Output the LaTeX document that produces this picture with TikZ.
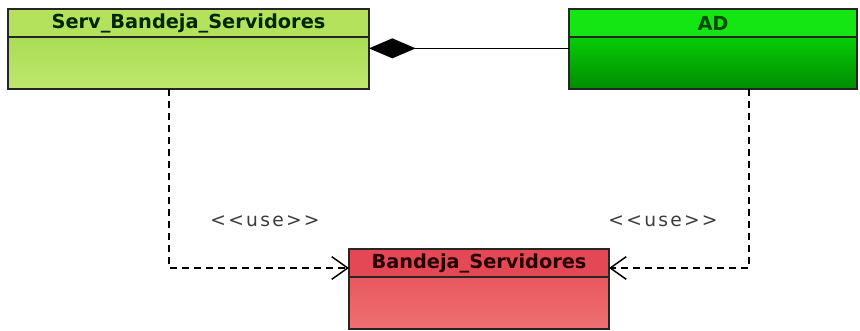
\documentclass[tikz,border=0pt]{standalone}
\usepackage{fontspec}
\usepackage{tikz}
\usepackage{xcolor}
\usetikzlibrary{arrows.meta}
\setmainfont{DejaVu Sans}
\newfontfamily\titlefont{DejaVu Sans}
\newfontfamily\stereofont{DejaVu Sans}[LetterSpace=12]

\definecolor{servtop}{RGB}{180,226,92}
\definecolor{servlo}{RGB}{170,220,84}
\definecolor{servhi}{RGB}{190,232,110}
\definecolor{adtop}{RGB}{20,230,20}
\definecolor{adhi}{RGB}{8,205,8}
\definecolor{adlo}{RGB}{0,140,0}
\definecolor{bandtop}{RGB}{228,72,84}
\definecolor{bandhi}{RGB}{232,88,94}
\definecolor{bandlo}{RGB}{238,112,112}
\definecolor{usegray}{RGB}{60,60,60}

\begin{document}
\begin{tikzpicture}[x=0.75pt,y=-0.75pt,
    header/.style={draw=black!85,line width=1.3pt,outer sep=0pt,minimum height=21pt,inner sep=0pt,
        font=\titlefont\bfseries\fontsize{14.5}{16}\selectfont},
    body/.style={draw=black!85,line width=1.3pt,outer sep=0pt,minimum height=39pt,inner sep=0pt},
    dep/.style={line width=0.9pt,dash pattern=on 5pt off 4pt,
        -{Straight Barb[length=12pt,width=17pt,line width=1.1pt]}},
    stereo/.style={text=usegray,font=\stereofont\fontsize{14}{16}\selectfont}]
            \useasboundingbox (0,0) rectangle (860,331);
            % classes
            \node[header,fill=servtop,text=black!85!green,minimum width=270.75pt] (servH) at (188.5,23) {Serv\_Bandeja\_Servidores};
            \node[body,top color=servlo,bottom color=servhi,minimum width=270.75pt,anchor=north] (servB) at (servH.south) {};
            \node[header,fill=adtop,text=black!70!green,minimum width=216pt] (adH) at (713,23) {AD};
            \node[body,top color=adhi,bottom color=adlo,minimum width=216pt,anchor=north] (adB) at (adH.south) {};
            \node[header,fill=bandtop,text=black!85!red,minimum width=195pt] (bandH) at (479,263) {Bandeja\_Servidores};
            \node[body,top color=bandhi,bottom color=bandlo,minimum width=195pt,anchor=north] (bandB) at (bandH.south) {};
            % composition
            \draw[line width=1pt,{Diamond[length=35pt,width=15pt,fill=black]}-] ([yshift=-8.5pt]servB.north east) to ([yshift=-8.5pt]adB.north west);
            % dependencies
            \coordinate (d1) at (169,268);
            \coordinate (d2) at (749,268);
            \draw[dep] (servB.south -| d1) -- (d1) -- (bandH.west |- d1);
            \draw[dep] (adB.south -| d2) -- (d2) -- (bandH.east |- d2);
            \node[stereo] (use1) at (265,221) {<<use>>};
            \node[stereo] (use2) at (663,221) {<<use>>};
        \end{tikzpicture}
\end{document}
